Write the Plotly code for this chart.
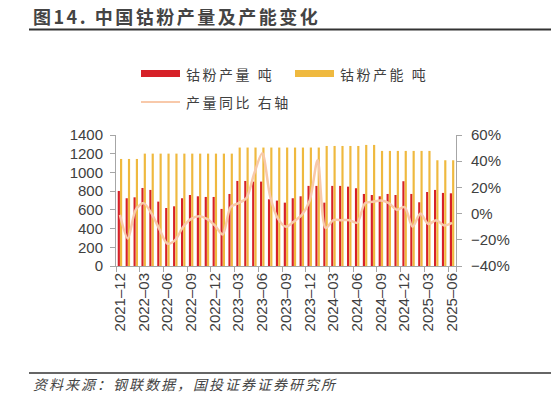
import plotly.graph_objects as go

months = [f"{y}-{m:02d}" for y, m in
          [(2021, 12)] + [(y, m) for y in (2022, 2023, 2024) for m in range(1, 13)] + [(2025, m) for m in range(1, 7)]]

production = [802, 724, 734, 834, 813, 688, 620, 638, 724, 759, 745, 738, 738, 610, 770,
              909, 909, 902, 902, 713, 699, 677, 724, 745, 856, 856, 677, 856, 856, 848,
              831, 770, 759, 745, 770, 759, 906, 770, 681, 791, 813, 781, 777]

capacity = [1144] * 3 + [1201] * 12 + [1266] * 11 + [1283] * 5 + [1294] * 2 + [1230] * 7 + [1130] * 3

yoy = [-1, -19, 3, 8, 0, -12, -23, -20, -10, -4, -2, -4, -9, -16, 5,
       8, 12, 31, 46, 13, -4, -10, -6, -1, 10, 41, -11, -5, -5, -5,
       -7, 8, 9, 10, 8, 3, 5, -10, 0, -8, -5, -9, -7]

tick_months = months[::3]
tick_text = [m.replace("-", "–") for m in tick_months]

RED = "#D62128"
YEL = "#EFB93F"
PINK = "#F8C9AA"
TXT = "#404040"
AX = "#A6A6A6"

W, H = 551, 398
L, R, T, B = 116, 456, 135, 266  # plot area in window pixels


def px(x):
    return (x - L) / (R - L)


def py(y):
    return (B - y) / (B - T)


fig = go.Figure()
fig.add_trace(go.Bar(x=months, y=production, name="钴粉产量 吨", marker_color=RED,
                     marker_line_width=0, offsetgroup="a"))
fig.add_trace(go.Bar(x=months, y=capacity, name="钴粉产能 吨", marker_color=YEL,
                     marker_line_width=0, offsetgroup="b"))
fig.add_trace(go.Scatter(x=months, y=[v / 100 for v in yoy], name="产量同比 右轴", yaxis="y2",
                         mode="lines", line=dict(color=PINK, width=2.5, shape="spline", smoothing=0.8)))

font_num = dict(family="Liberation Sans, Arial", size=15, color=TXT)

fig.update_layout(
    width=W, height=H, autosize=False,
    margin=dict(l=L, r=W - R, t=T, b=H - B, pad=0),
    paper_bgcolor="white", plot_bgcolor="white",
    showlegend=False,
    barmode="group", bargap=0.42, bargroupgap=0.05,
    xaxis=dict(type="category", tickmode="array", tickvals=tick_months, ticktext=tick_text,
               tickangle=-90, tickfont=dict(family="Liberation Sans, Arial", size=15, color=TXT),
               ticks="outside", ticklen=5, tickcolor=AX, tickson="boundaries",
               showline=True, linecolor=AX, linewidth=1, showgrid=False, zeroline=False,
               range=[-0.5, len(months) - 0.5]),
    yaxis=dict(range=[0, 1400], dtick=200, tickfont=font_num, ticks="outside", ticklen=5,
               tickcolor=AX, showline=True, linecolor=AX, linewidth=1, showgrid=False,
               zeroline=False, ticklabelstandoff=4),
    yaxis2=dict(range=[-0.4, 0.6], dtick=0.2, tickformat=".0%", overlaying="y", side="right",
                tickfont=font_num, ticks="outside", ticklen=5, tickcolor=AX, showline=True,
                linecolor=AX, linewidth=1, showgrid=False, zeroline=False, ticklabelstandoff=6),
)

cjk = "Noto Sans CJK SC"
shapes = [
    dict(type="line", xref="paper", yref="paper", x0=px(29), x1=px(W), y0=py(29.5), y1=py(29.5),
         line=dict(color="#333333", width=2)),
    dict(type="line", xref="paper", yref="paper", x0=px(29), x1=px(W), y0=py(373), y1=py(373),
         line=dict(color="#333333", width=1.5)),
    dict(type="rect", xref="paper", yref="paper", x0=px(141), x1=px(180), y0=py(77), y1=py(70),
         fillcolor=RED, line_width=0),
    dict(type="rect", xref="paper", yref="paper", x0=px(295), x1=px(334), y0=py(77), y1=py(70),
         fillcolor=YEL, line_width=0),
    dict(type="line", xref="paper", yref="paper", x0=px(141), x1=px(180), y0=py(102), y1=py(102),
         line=dict(color=PINK, width=2)),
]
fig.update_layout(shapes=shapes)


def ann(text, x, y, size, color=TXT, spacing=2, bold=False, italic=False):
    t = f'<span style="letter-spacing:{spacing}px">{text}</span>'
    if bold:
        t = f"<b>{t}</b>"
    if italic:
        t = f"<i>{t}</i>"
    fig.add_annotation(text=t, xref="paper", yref="paper", x=px(x), y=py(y),
                       xanchor="left", yanchor="middle", showarrow=False,
                       font=dict(family=cjk, size=size, color=color))


ann("图14. 中国钴粉产量及产能变化", 31, 16, 18, color="#444444", spacing=2.5, bold=True)
ann(fig.data[0].name, 184, 74, 14, spacing=2.5)
ann(fig.data[1].name, 338, 74, 14, spacing=2.5)
ann(fig.data[2].name, 184, 102, 14, spacing=2.5)
ann("资料来源：钢联数据，国投证券证券研究所", 31, 384, 14, color="#444444", spacing=2, italic=True)

fig.write_html("out.html", config={"displayModeBar": False},
               post_script="document.body.style.margin='0';document.body.style.overflow='hidden';")
